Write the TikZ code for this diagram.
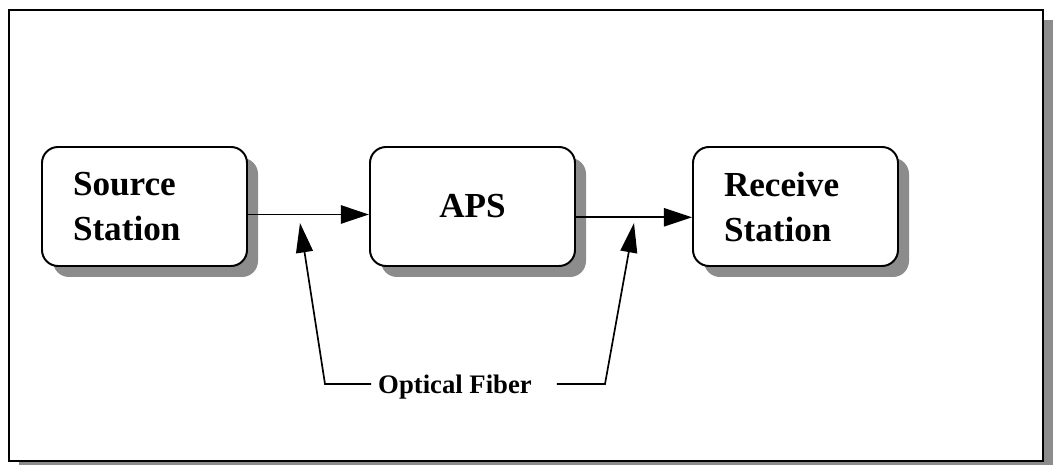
\documentclass[tikz,border=0pt]{standalone}
\usepackage{fontspec}
\setmainfont{Liberation Serif}
\usetikzlibrary{arrows.meta,shadows}

\begin{document}
\begin{tikzpicture}[
  station/.style={draw, line width=1.4pt, rounded corners=0.4cm, fill=white,
    minimum width=5.125cm, minimum height=2.975cm,
    text width=3.575cm, inner xsep=0.775cm,
    drop shadow={shadow xshift=0.275cm, shadow yshift=-0.275cm, fill=black!45, opacity=1},
    font=\fontsize{25}{32}\selectfont\bfseries},
  link/.style={line width=1.2pt, -{Triangle[length=20pt,width=13pt]}},
  fiberline/.style={line width=1.2pt, -{Triangle[length=21pt,width=12pt]}}
]
  \useasboundingbox (0,0) rectangle (26.325,11.6);
  \clip (0,0) rectangle (26.325,11.6);
  % Frame with shadow
  \fill[black!45] (0.475,-0.175) rectangle (26.325,11.1);
  \draw[line width=1.4pt, fill=white] (0.225,0.075) rectangle (26.075,11.35);
  % Stations
  \node[station, align=left] (src) at (3.6125,6.4375) {Source\\Station};
  \node[station, align=center] (aps) at (11.8125,6.4375) {\raisebox{-3pt}{APS}};
  \node[station, align=left] (rcv) at (19.8875,6.4375) {Receive\\Station};
  \draw[link] ([yshift=-0.2cm]src.east) -- ([yshift=-0.2cm]aps.west);
  \draw[link] ([yshift=-0.27cm]aps.east) -- ([yshift=-0.27cm]rcv.west);
  % Fiber label and pointers
  \node[font=\fontsize{19}{22}\selectfont\bfseries, anchor=base, inner xsep=0.17cm] (fib) at (11.375,1.775) {Optical Fiber};
  \coordinate (bendL) at (8.125,2.0);
  \coordinate (tipL) at (7.5,6.025);
  \coordinate (bendR) at (15.125,2.0);
  \coordinate (tipR) at (15.85,6.025);
  \coordinate (endR) at ([xshift=0.45cm]fib.east);
  \draw[fiberline] (fib.west |- bendL) -- (bendL) -- (tipL);
  \draw[fiberline] (endR |- bendR) -- (bendR) -- (tipR);
\end{tikzpicture}
\end{document}
